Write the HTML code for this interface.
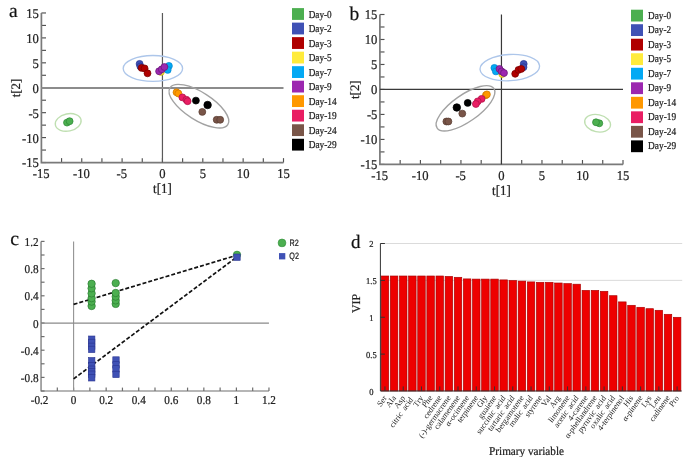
<!DOCTYPE html><html><head><meta charset="utf-8"><style>html,body{margin:0;padding:0;background:#fff;width:685px;height:457px;overflow:hidden}svg{display:block;will-change:transform;text-rendering:geometricPrecision}text{stroke:#222;stroke-width:0.22px}.nl text{stroke:none}</style></head><body>
<svg width="685" height="457" viewBox="0 0 685 457">
<rect width="685" height="457" fill="#fff"/>
<g stroke="#505050" stroke-width="1.15" fill="none">
<path d="M41.40 162.53h4.6"/>
<path d="M41.40 150.06h4.6"/>
<path d="M61.57 162.53v-4.4"/>
<path d="M41.40 137.60h4.6"/>
<path d="M81.75 162.53v-4.4"/>
<path d="M41.40 125.14h4.6"/>
<path d="M101.92 162.53v-4.4"/>
<path d="M41.40 112.67h4.6"/>
<path d="M122.10 162.53v-4.4"/>
<path d="M41.40 100.21h4.6"/>
<path d="M142.27 162.53v-4.4"/>
<path d="M41.40 87.75h4.6"/>
<path d="M162.45 162.53v-4.4"/>
<path d="M41.40 75.29h4.6"/>
<path d="M182.62 162.53v-4.4"/>
<path d="M41.40 62.83h4.6"/>
<path d="M202.80 162.53v-4.4"/>
<path d="M41.40 50.36h4.6"/>
<path d="M222.97 162.53v-4.4"/>
<path d="M41.40 37.90h4.6"/>
<path d="M243.15 162.53v-4.4"/>
<path d="M41.40 25.44h4.6"/>
<path d="M263.32 162.53v-4.4"/>
<path d="M41.40 12.97h4.6"/>
<path d="M283.50 162.53v-4.4"/>
</g>
<path d="M41.40 12.97V162.53H283.50" stroke="#7a7a7a" stroke-width="1.7" fill="none"/>
<path d="M162.45 12.97V162.53" stroke="#5a5a5a" stroke-width="1.2"/>
<path d="M41.40 87.95H283.50" stroke="#8c8c8c" stroke-width="1.9"/>
<g font-family="'Liberation Serif', serif" font-size="12.6" fill="#222">
<text transform="translate(38.90 17.87) scale(1 1.07)" text-anchor="end">15</text>
<text transform="translate(38.90 42.80) scale(1 1.07)" text-anchor="end">10</text>
<text transform="translate(38.90 67.73) scale(1 1.07)" text-anchor="end">5</text>
<text transform="translate(38.90 92.65) scale(1 1.07)" text-anchor="end">0</text>
<text transform="translate(38.90 117.58) scale(1 1.07)" text-anchor="end">-5</text>
<text transform="translate(38.90 142.50) scale(1 1.07)" text-anchor="end">-10</text>
<text transform="translate(38.90 167.43) scale(1 1.07)" text-anchor="end">-15</text>
<text transform="translate(41.10 177.62) scale(1 1.07)" text-anchor="middle">-15</text>
<text transform="translate(81.45 177.62) scale(1 1.07)" text-anchor="middle">-10</text>
<text transform="translate(121.80 177.62) scale(1 1.07)" text-anchor="middle">-5</text>
<text transform="translate(162.45 177.62) scale(1 1.07)" text-anchor="middle">0</text>
<text transform="translate(202.80 177.62) scale(1 1.07)" text-anchor="middle">5</text>
<text transform="translate(243.15 177.62) scale(1 1.07)" text-anchor="middle">10</text>
<text transform="translate(283.50 177.62) scale(1 1.07)" text-anchor="middle">15</text>
<text transform="translate(162.45 193.33) scale(1 1.07)" text-anchor="middle" font-size="13">t[1]</text>
<text transform="translate(20.10 87.95) rotate(-90)" text-anchor="middle" font-size="12.9">t[2]</text>
</g>
<text x="9.0" y="17.2" font-family="'Liberation Serif', serif" font-size="19.5" fill="#111">a</text>
<ellipse cx="152.9" cy="68.4" rx="29.7" ry="12.9" transform="rotate(0 152.9 68.4)" fill="none" stroke="#adc6ea" stroke-width="1.35"/>
<ellipse cx="198.9" cy="106.2" rx="34.3" ry="13.8" transform="rotate(32.5 198.9 106.2)" fill="none" stroke="#a2a2a2" stroke-width="1.35"/>
<ellipse cx="68.2" cy="122.4" rx="13.1" ry="8.6" transform="rotate(-12 68.2 122.4)" fill="none" stroke="#bfdfb1" stroke-width="1.35"/>
<circle cx="67.0" cy="122.6" r="3.45" fill="#4caf50" stroke="#2e8b35" stroke-width="0.75"/>
<circle cx="69.6" cy="121.2" r="3.45" fill="#4caf50" stroke="#2e8b35" stroke-width="0.75"/>
<circle cx="139.6" cy="63.9" r="3.45" fill="#3f51b5" stroke="#283593" stroke-width="0.75"/>
<circle cx="140.4" cy="66.5" r="3.45" fill="#3f51b5" stroke="#283593" stroke-width="0.75"/>
<circle cx="141.6" cy="67.9" r="3.45" fill="#b00000" stroke="#7a0000" stroke-width="0.75"/>
<circle cx="144.6" cy="68.4" r="3.45" fill="#b00000" stroke="#7a0000" stroke-width="0.75"/>
<circle cx="147.5" cy="73.3" r="3.45" fill="#b00000" stroke="#7a0000" stroke-width="0.75"/>
<circle cx="160.9" cy="71.9" r="3.45" fill="#ffeb3b" stroke="#c8b400" stroke-width="0.75"/>
<circle cx="168.9" cy="65.9" r="3.45" fill="#03a9f4" stroke="#0288d1" stroke-width="0.75"/>
<circle cx="167.7" cy="69.9" r="3.45" fill="#03a9f4" stroke="#0288d1" stroke-width="0.75"/>
<circle cx="159.1" cy="71.3" r="3.45" fill="#9c27b0" stroke="#6a1b7a" stroke-width="0.75"/>
<circle cx="161.8" cy="69.3" r="3.45" fill="#9c27b0" stroke="#6a1b7a" stroke-width="0.75"/>
<circle cx="164.4" cy="67.0" r="3.45" fill="#9c27b0" stroke="#6a1b7a" stroke-width="0.75"/>
<circle cx="176.5" cy="92.3" r="3.45" fill="#ff9800" stroke="#d07a00" stroke-width="0.75"/>
<circle cx="178.4" cy="93.5" r="3.45" fill="#ff9800" stroke="#d07a00" stroke-width="0.75"/>
<circle cx="182.4" cy="97.4" r="3.45" fill="#e91e63" stroke="#b0124a" stroke-width="0.75"/>
<circle cx="186.4" cy="99.8" r="3.45" fill="#e91e63" stroke="#b0124a" stroke-width="0.75"/>
<circle cx="187.6" cy="101.2" r="3.45" fill="#e91e63" stroke="#b0124a" stroke-width="0.75"/>
<circle cx="202.3" cy="111.9" r="3.45" fill="#795548" stroke="#5a3d33" stroke-width="0.75"/>
<circle cx="216.7" cy="119.8" r="3.45" fill="#795548" stroke="#5a3d33" stroke-width="0.75"/>
<circle cx="220.2" cy="119.8" r="3.45" fill="#795548" stroke="#5a3d33" stroke-width="0.75"/>
<circle cx="195.9" cy="100.6" r="3.45" fill="#000000" stroke="#000000" stroke-width="0.75"/>
<circle cx="207.6" cy="105.0" r="3.75" fill="#000000" stroke="#000000" stroke-width="0.75"/>
<rect x="292" y="8.10" width="12" height="11.8" fill="#4caf50"/>
<text transform="translate(308.70 17.65) scale(1 1.08)" font-family="'Liberation Serif', serif" font-size="9.8" fill="#222" textLength="23" lengthAdjust="spacingAndGlyphs">Day-0</text>
<rect x="292" y="22.62" width="12" height="11.8" fill="#3f51b5"/>
<text transform="translate(308.70 32.17) scale(1 1.08)" font-family="'Liberation Serif', serif" font-size="9.8" fill="#222" textLength="23" lengthAdjust="spacingAndGlyphs">Day-2</text>
<rect x="292" y="37.14" width="12" height="11.8" fill="#b00000"/>
<text transform="translate(308.70 46.69) scale(1 1.08)" font-family="'Liberation Serif', serif" font-size="9.8" fill="#222" textLength="23" lengthAdjust="spacingAndGlyphs">Day-3</text>
<rect x="292" y="51.66" width="12" height="11.8" fill="#ffeb3b"/>
<text transform="translate(308.70 61.21) scale(1 1.08)" font-family="'Liberation Serif', serif" font-size="9.8" fill="#222" textLength="23" lengthAdjust="spacingAndGlyphs">Day-5</text>
<rect x="292" y="66.18" width="12" height="11.8" fill="#03a9f4"/>
<text transform="translate(308.70 75.73) scale(1 1.08)" font-family="'Liberation Serif', serif" font-size="9.8" fill="#222" textLength="23" lengthAdjust="spacingAndGlyphs">Day-7</text>
<rect x="292" y="80.70" width="12" height="11.8" fill="#9c27b0"/>
<text transform="translate(308.70 90.25) scale(1 1.08)" font-family="'Liberation Serif', serif" font-size="9.8" fill="#222" textLength="23" lengthAdjust="spacingAndGlyphs">Day-9</text>
<rect x="292" y="95.22" width="12" height="11.8" fill="#ff9800"/>
<text transform="translate(308.70 104.77) scale(1 1.08)" font-family="'Liberation Serif', serif" font-size="9.8" fill="#222" textLength="28" lengthAdjust="spacingAndGlyphs">Day-14</text>
<rect x="292" y="109.74" width="12" height="11.8" fill="#e91e63"/>
<text transform="translate(308.70 119.29) scale(1 1.08)" font-family="'Liberation Serif', serif" font-size="9.8" fill="#222" textLength="28" lengthAdjust="spacingAndGlyphs">Day-19</text>
<rect x="292" y="124.26" width="12" height="11.8" fill="#795548"/>
<text transform="translate(308.70 133.81) scale(1 1.08)" font-family="'Liberation Serif', serif" font-size="9.8" fill="#222" textLength="28" lengthAdjust="spacingAndGlyphs">Day-24</text>
<rect x="292" y="138.78" width="12" height="11.8" fill="#000000"/>
<text transform="translate(308.70 148.33) scale(1 1.08)" font-family="'Liberation Serif', serif" font-size="9.8" fill="#222" textLength="28" lengthAdjust="spacingAndGlyphs">Day-29</text>
<g stroke="#505050" stroke-width="1.15" fill="none">
<path d="M379.90 164.41h4.6"/>
<path d="M379.90 151.91h4.6"/>
<path d="M400.16 164.41v-4.4"/>
<path d="M379.90 139.42h4.6"/>
<path d="M420.42 164.41v-4.4"/>
<path d="M379.90 126.93h4.6"/>
<path d="M440.68 164.41v-4.4"/>
<path d="M379.90 114.44h4.6"/>
<path d="M460.94 164.41v-4.4"/>
<path d="M379.90 101.94h4.6"/>
<path d="M481.19 164.41v-4.4"/>
<path d="M379.90 89.45h4.6"/>
<path d="M501.45 164.41v-4.4"/>
<path d="M379.90 76.96h4.6"/>
<path d="M521.71 164.41v-4.4"/>
<path d="M379.90 64.47h4.6"/>
<path d="M541.97 164.41v-4.4"/>
<path d="M379.90 51.97h4.6"/>
<path d="M562.22 164.41v-4.4"/>
<path d="M379.90 39.48h4.6"/>
<path d="M582.48 164.41v-4.4"/>
<path d="M379.90 26.99h4.6"/>
<path d="M602.74 164.41v-4.4"/>
<path d="M379.90 14.50h4.6"/>
<path d="M623.00 164.41v-4.4"/>
</g>
<path d="M379.90 14.50V164.41H623.00" stroke="#7a7a7a" stroke-width="1.7" fill="none"/>
<path d="M501.45 14.50V164.41" stroke="#383838" stroke-width="1.2"/>
<path d="M379.90 89.45H623.00" stroke="#3a3a3a" stroke-width="1.2"/>
<g font-family="'Liberation Serif', serif" font-size="12.6" fill="#222">
<text transform="translate(377.40 19.40) scale(1 1.07)" text-anchor="end">15</text>
<text transform="translate(377.40 44.38) scale(1 1.07)" text-anchor="end">10</text>
<text transform="translate(377.40 69.37) scale(1 1.07)" text-anchor="end">5</text>
<text transform="translate(377.40 94.35) scale(1 1.07)" text-anchor="end">0</text>
<text transform="translate(377.40 119.34) scale(1 1.07)" text-anchor="end">-5</text>
<text transform="translate(377.40 144.32) scale(1 1.07)" text-anchor="end">-10</text>
<text transform="translate(377.40 169.31) scale(1 1.07)" text-anchor="end">-15</text>
<text transform="translate(379.60 179.50) scale(1 1.07)" text-anchor="middle">-15</text>
<text transform="translate(420.12 179.50) scale(1 1.07)" text-anchor="middle">-10</text>
<text transform="translate(460.63 179.50) scale(1 1.07)" text-anchor="middle">-5</text>
<text transform="translate(501.45 179.50) scale(1 1.07)" text-anchor="middle">0</text>
<text transform="translate(541.97 179.50) scale(1 1.07)" text-anchor="middle">5</text>
<text transform="translate(582.48 179.50) scale(1 1.07)" text-anchor="middle">10</text>
<text transform="translate(623.00 179.50) scale(1 1.07)" text-anchor="middle">15</text>
<text transform="translate(501.45 195.21) scale(1 1.07)" text-anchor="middle" font-size="13">t[1]</text>
<text transform="translate(358.60 89.65) rotate(-90)" text-anchor="middle" font-size="12.9">t[2]</text>
</g>
<text x="349.6" y="19.8" font-family="'Liberation Serif', serif" font-size="19.5" fill="#111">b</text>
<ellipse cx="509.8" cy="67.6" rx="29.8" ry="13.1" transform="rotate(-3.5 509.8 67.6)" fill="none" stroke="#adc6ea" stroke-width="1.35"/>
<ellipse cx="465.5" cy="108.3" rx="34.6" ry="13.4" transform="rotate(-35 465.5 108.3)" fill="none" stroke="#a2a2a2" stroke-width="1.35"/>
<ellipse cx="597.6" cy="123.2" rx="13.1" ry="8.6" transform="rotate(12 597.6 123.2)" fill="none" stroke="#bfdfb1" stroke-width="1.35"/>
<circle cx="599.3" cy="123.3" r="3.45" fill="#4caf50" stroke="#2e8b35" stroke-width="0.75"/>
<circle cx="596.0" cy="122.3" r="3.45" fill="#4caf50" stroke="#2e8b35" stroke-width="0.75"/>
<circle cx="502.2" cy="74.0" r="3.45" fill="#ffeb3b" stroke="#c8b400" stroke-width="0.75"/>
<circle cx="494.4" cy="67.9" r="3.45" fill="#03a9f4" stroke="#0288d1" stroke-width="0.75"/>
<circle cx="495.9" cy="71.4" r="3.45" fill="#03a9f4" stroke="#0288d1" stroke-width="0.75"/>
<circle cx="499.5" cy="68.9" r="3.45" fill="#9c27b0" stroke="#6a1b7a" stroke-width="0.75"/>
<circle cx="501.6" cy="71.4" r="3.45" fill="#9c27b0" stroke="#6a1b7a" stroke-width="0.75"/>
<circle cx="504.0" cy="73.0" r="3.45" fill="#9c27b0" stroke="#6a1b7a" stroke-width="0.75"/>
<circle cx="523.7" cy="63.9" r="3.45" fill="#3f51b5" stroke="#283593" stroke-width="0.75"/>
<circle cx="523.5" cy="67.2" r="3.45" fill="#3f51b5" stroke="#283593" stroke-width="0.75"/>
<circle cx="515.2" cy="73.8" r="3.45" fill="#b00000" stroke="#7a0000" stroke-width="0.75"/>
<circle cx="518.5" cy="69.9" r="3.45" fill="#b00000" stroke="#7a0000" stroke-width="0.75"/>
<circle cx="521.3" cy="68.9" r="3.45" fill="#b00000" stroke="#7a0000" stroke-width="0.75"/>
<circle cx="485.9" cy="95.2" r="3.45" fill="#ff9800" stroke="#d07a00" stroke-width="0.75"/>
<circle cx="486.9" cy="94.4" r="3.45" fill="#ff9800" stroke="#d07a00" stroke-width="0.75"/>
<circle cx="481.6" cy="98.9" r="3.45" fill="#e91e63" stroke="#b0124a" stroke-width="0.75"/>
<circle cx="477.7" cy="101.4" r="3.45" fill="#e91e63" stroke="#b0124a" stroke-width="0.75"/>
<circle cx="475.9" cy="104.0" r="3.45" fill="#e91e63" stroke="#b0124a" stroke-width="0.75"/>
<circle cx="462.3" cy="113.6" r="3.45" fill="#795548" stroke="#5a3d33" stroke-width="0.75"/>
<circle cx="446.4" cy="121.5" r="3.45" fill="#795548" stroke="#5a3d33" stroke-width="0.75"/>
<circle cx="448.4" cy="121.5" r="3.45" fill="#795548" stroke="#5a3d33" stroke-width="0.75"/>
<circle cx="467.7" cy="102.9" r="3.45" fill="#000000" stroke="#000000" stroke-width="0.75"/>
<circle cx="456.8" cy="107.5" r="3.75" fill="#000000" stroke="#000000" stroke-width="0.75"/>
<rect x="631" y="9.70" width="12" height="11.8" fill="#4caf50"/>
<text transform="translate(648.10 18.70) scale(1 1.08)" font-family="'Liberation Serif', serif" font-size="9.8" fill="#222" textLength="23" lengthAdjust="spacingAndGlyphs">Day-0</text>
<rect x="631" y="24.22" width="12" height="11.8" fill="#3f51b5"/>
<text transform="translate(648.10 33.22) scale(1 1.08)" font-family="'Liberation Serif', serif" font-size="9.8" fill="#222" textLength="23" lengthAdjust="spacingAndGlyphs">Day-2</text>
<rect x="631" y="38.74" width="12" height="11.8" fill="#b00000"/>
<text transform="translate(648.10 47.74) scale(1 1.08)" font-family="'Liberation Serif', serif" font-size="9.8" fill="#222" textLength="23" lengthAdjust="spacingAndGlyphs">Day-3</text>
<rect x="631" y="53.26" width="12" height="11.8" fill="#ffeb3b"/>
<text transform="translate(648.10 62.26) scale(1 1.08)" font-family="'Liberation Serif', serif" font-size="9.8" fill="#222" textLength="23" lengthAdjust="spacingAndGlyphs">Day-5</text>
<rect x="631" y="67.78" width="12" height="11.8" fill="#03a9f4"/>
<text transform="translate(648.10 76.78) scale(1 1.08)" font-family="'Liberation Serif', serif" font-size="9.8" fill="#222" textLength="23" lengthAdjust="spacingAndGlyphs">Day-7</text>
<rect x="631" y="82.30" width="12" height="11.8" fill="#9c27b0"/>
<text transform="translate(648.10 91.30) scale(1 1.08)" font-family="'Liberation Serif', serif" font-size="9.8" fill="#222" textLength="23" lengthAdjust="spacingAndGlyphs">Day-9</text>
<rect x="631" y="96.82" width="12" height="11.8" fill="#ff9800"/>
<text transform="translate(648.10 105.82) scale(1 1.08)" font-family="'Liberation Serif', serif" font-size="9.8" fill="#222" textLength="28" lengthAdjust="spacingAndGlyphs">Day-14</text>
<rect x="631" y="111.34" width="12" height="11.8" fill="#e91e63"/>
<text transform="translate(648.10 120.34) scale(1 1.08)" font-family="'Liberation Serif', serif" font-size="9.8" fill="#222" textLength="28" lengthAdjust="spacingAndGlyphs">Day-19</text>
<rect x="631" y="125.86" width="12" height="11.8" fill="#795548"/>
<text transform="translate(648.10 134.86) scale(1 1.08)" font-family="'Liberation Serif', serif" font-size="9.8" fill="#222" textLength="28" lengthAdjust="spacingAndGlyphs">Day-24</text>
<rect x="631" y="140.38" width="12" height="11.8" fill="#000000"/>
<text transform="translate(648.10 149.38) scale(1 1.08)" font-family="'Liberation Serif', serif" font-size="9.8" fill="#222" textLength="28" lengthAdjust="spacingAndGlyphs">Day-29</text>
<g stroke="#6e6e6e" stroke-width="1.2" fill="none"><path d="M41.04 241.40V391.00H268.96"/>
<path d="M41.04 241.40h3.5"/>
<path d="M41.04 255.00h3.5"/>
<path d="M41.04 268.60h3.5"/>
<path d="M41.04 282.20h3.5"/>
<path d="M41.04 295.80h3.5"/>
<path d="M41.04 309.40h3.5"/>
<path d="M41.04 323.00h3.5"/>
<path d="M41.04 336.60h3.5"/>
<path d="M41.04 350.20h3.5"/>
<path d="M41.04 363.80h3.5"/>
<path d="M41.04 377.40h3.5"/>
<path d="M41.04 391.00h3.5"/>
<path d="M57.32 391.00v-3.4"/>
<path d="M73.60 391.00v-3.4"/>
<path d="M89.88 391.00v-3.4"/>
<path d="M106.16 391.00v-3.4"/>
<path d="M122.44 391.00v-3.4"/>
<path d="M138.72 391.00v-3.4"/>
<path d="M155.00 391.00v-3.4"/>
<path d="M171.28 391.00v-3.4"/>
<path d="M187.56 391.00v-3.4"/>
<path d="M203.84 391.00v-3.4"/>
<path d="M220.12 391.00v-3.4"/>
<path d="M236.40 391.00v-3.4"/>
<path d="M252.68 391.00v-3.4"/>
<path d="M268.96 391.00v-3.4"/>
</g>
<path d="M73.60 241.40V391.00" stroke="#929292" stroke-width="1.1"/><path d="M41.04 323.05H268.96" stroke="#8a8a8a" stroke-width="1.35"/>
<g font-family="'Liberation Serif', serif" font-size="11.2" fill="#222">
<text transform="translate(38.54 245.90) scale(1 1.07)" text-anchor="end">1.2</text>
<text transform="translate(38.54 273.10) scale(1 1.07)" text-anchor="end">0.8</text>
<text transform="translate(38.54 300.30) scale(1 1.07)" text-anchor="end">0.4</text>
<text transform="translate(38.54 327.50) scale(1 1.07)" text-anchor="end">0</text>
<text transform="translate(38.54 354.70) scale(1 1.07)" text-anchor="end">-0.4</text>
<text transform="translate(38.54 381.90) scale(1 1.07)" text-anchor="end">-0.8</text>
<text transform="translate(39.54 404.30) scale(1 1.07)" text-anchor="middle">-0.2</text>
<text transform="translate(73.60 404.30) scale(1 1.07)" text-anchor="middle">0</text>
<text transform="translate(106.16 404.30) scale(1 1.07)" text-anchor="middle">0.2</text>
<text transform="translate(138.72 404.30) scale(1 1.07)" text-anchor="middle">0.4</text>
<text transform="translate(171.28 404.30) scale(1 1.07)" text-anchor="middle">0.6</text>
<text transform="translate(203.84 404.30) scale(1 1.07)" text-anchor="middle">0.8</text>
<text transform="translate(236.40 404.30) scale(1 1.07)" text-anchor="middle">1</text>
<text transform="translate(268.96 404.30) scale(1 1.07)" text-anchor="middle">1.2</text>
</g>
<text x="10.3" y="245.4" font-family="'Liberation Serif', serif" font-size="19.8" fill="#111">c</text>
<g stroke="#111" stroke-width="1.7" stroke-dasharray="4 2" fill="none"><path d="M73.60 304.4L237 255.2"/><path d="M73.60 378.9L237 256.9"/></g>
<circle cx="91.6" cy="306.0" r="3.7" fill="#4caf50" stroke="#2a7d30" stroke-width="0.7"/>
<circle cx="91.6" cy="301.6" r="3.7" fill="#4caf50" stroke="#2a7d30" stroke-width="0.7"/>
<circle cx="91.6" cy="298.2" r="3.7" fill="#4caf50" stroke="#2a7d30" stroke-width="0.7"/>
<circle cx="91.6" cy="293.4" r="3.7" fill="#4caf50" stroke="#2a7d30" stroke-width="0.7"/>
<circle cx="91.6" cy="288.3" r="3.7" fill="#4caf50" stroke="#2a7d30" stroke-width="0.7"/>
<circle cx="91.6" cy="283.8" r="3.7" fill="#4caf50" stroke="#2a7d30" stroke-width="0.7"/>
<circle cx="115.7" cy="303.9" r="3.7" fill="#4caf50" stroke="#2a7d30" stroke-width="0.7"/>
<circle cx="115.7" cy="300.4" r="3.7" fill="#4caf50" stroke="#2a7d30" stroke-width="0.7"/>
<circle cx="115.7" cy="296.6" r="3.7" fill="#4caf50" stroke="#2a7d30" stroke-width="0.7"/>
<circle cx="115.7" cy="293.0" r="3.7" fill="#4caf50" stroke="#2a7d30" stroke-width="0.7"/>
<circle cx="115.7" cy="283.1" r="3.7" fill="#4caf50" stroke="#2a7d30" stroke-width="0.7"/>
<circle cx="237" cy="254.8" r="3.7" fill="#4caf50" stroke="#2e8b35" stroke-width="0.6"/>
<rect x="88.50" y="336.00" width="6.4" height="6.4" fill="#3f51b5" stroke="#2a3590" stroke-width="0.6"/>
<rect x="88.50" y="339.20" width="6.4" height="6.4" fill="#3f51b5" stroke="#2a3590" stroke-width="0.6"/>
<rect x="88.50" y="343.10" width="6.4" height="6.4" fill="#3f51b5" stroke="#2a3590" stroke-width="0.6"/>
<rect x="88.50" y="346.20" width="6.4" height="6.4" fill="#3f51b5" stroke="#2a3590" stroke-width="0.6"/>
<rect x="88.50" y="357.50" width="6.4" height="6.4" fill="#3f51b5" stroke="#2a3590" stroke-width="0.6"/>
<rect x="88.50" y="362.30" width="6.4" height="6.4" fill="#3f51b5" stroke="#2a3590" stroke-width="0.6"/>
<rect x="88.50" y="366.00" width="6.4" height="6.4" fill="#3f51b5" stroke="#2a3590" stroke-width="0.6"/>
<rect x="88.50" y="368.60" width="6.4" height="6.4" fill="#3f51b5" stroke="#2a3590" stroke-width="0.6"/>
<rect x="88.50" y="371.00" width="6.4" height="6.4" fill="#3f51b5" stroke="#2a3590" stroke-width="0.6"/>
<rect x="88.50" y="374.60" width="6.4" height="6.4" fill="#3f51b5" stroke="#2a3590" stroke-width="0.6"/>
<rect x="112.80" y="356.80" width="6.4" height="6.4" fill="#3f51b5" stroke="#2a3590" stroke-width="0.6"/>
<rect x="112.80" y="361.70" width="6.4" height="6.4" fill="#3f51b5" stroke="#2a3590" stroke-width="0.6"/>
<rect x="112.80" y="365.70" width="6.4" height="6.4" fill="#3f51b5" stroke="#2a3590" stroke-width="0.6"/>
<rect x="112.80" y="371.20" width="6.4" height="6.4" fill="#3f51b5" stroke="#2a3590" stroke-width="0.6"/>
<rect x="233.8" y="254" width="6.4" height="6.4" fill="#3f51b5" stroke="#2a3590" stroke-width="0.6"/>
<circle cx="282" cy="242.9" r="3.9" fill="#4caf50" stroke="#2e8b35" stroke-width="0.6"/>
<rect x="279" y="253.1" width="6.3" height="6.3" fill="#3f51b5"/>
<g font-family="'Liberation Sans', sans-serif" font-size="8.6" fill="#222"><text transform="translate(289.6 246.0) scale(0.84 1.08)">R2</text><text transform="translate(289.3 258.9) scale(0.84 1.08)">Q2</text></g>
<g stroke="#d2d2d2" stroke-width="0.8"><path d="M380.4 243.50H682.19"/><path d="M380.4 280.38H682.19"/></g>
<rect x="381.20" y="276.00" width="7.53" height="115.00" fill="#ee0000" stroke="#a80000" stroke-width="0.65"/>
<rect x="390.33" y="276.00" width="7.53" height="115.00" fill="#ee0000" stroke="#a80000" stroke-width="0.65"/>
<rect x="399.46" y="276.00" width="7.53" height="115.00" fill="#ee0000" stroke="#a80000" stroke-width="0.65"/>
<rect x="408.59" y="276.00" width="7.53" height="115.00" fill="#ee0000" stroke="#a80000" stroke-width="0.65"/>
<rect x="417.72" y="276.00" width="7.53" height="115.00" fill="#ee0000" stroke="#a80000" stroke-width="0.65"/>
<rect x="426.85" y="276.00" width="7.53" height="115.00" fill="#ee0000" stroke="#a80000" stroke-width="0.65"/>
<rect x="435.98" y="276.00" width="7.53" height="115.00" fill="#ee0000" stroke="#a80000" stroke-width="0.65"/>
<rect x="445.11" y="276.40" width="7.53" height="114.60" fill="#ee0000" stroke="#a80000" stroke-width="0.65"/>
<rect x="454.24" y="277.30" width="7.53" height="113.70" fill="#ee0000" stroke="#a80000" stroke-width="0.65"/>
<rect x="463.37" y="278.90" width="7.53" height="112.10" fill="#ee0000" stroke="#a80000" stroke-width="0.65"/>
<rect x="472.50" y="279.10" width="7.53" height="111.90" fill="#ee0000" stroke="#a80000" stroke-width="0.65"/>
<rect x="481.63" y="279.10" width="7.53" height="111.90" fill="#ee0000" stroke="#a80000" stroke-width="0.65"/>
<rect x="490.76" y="279.10" width="7.53" height="111.90" fill="#ee0000" stroke="#a80000" stroke-width="0.65"/>
<rect x="499.89" y="279.90" width="7.53" height="111.10" fill="#ee0000" stroke="#a80000" stroke-width="0.65"/>
<rect x="509.02" y="280.50" width="7.53" height="110.50" fill="#ee0000" stroke="#a80000" stroke-width="0.65"/>
<rect x="518.15" y="281.10" width="7.53" height="109.90" fill="#ee0000" stroke="#a80000" stroke-width="0.65"/>
<rect x="527.28" y="281.90" width="7.53" height="109.10" fill="#ee0000" stroke="#a80000" stroke-width="0.65"/>
<rect x="536.41" y="282.30" width="7.53" height="108.70" fill="#ee0000" stroke="#a80000" stroke-width="0.65"/>
<rect x="545.54" y="282.30" width="7.53" height="108.70" fill="#ee0000" stroke="#a80000" stroke-width="0.65"/>
<rect x="554.67" y="283.00" width="7.53" height="108.00" fill="#ee0000" stroke="#a80000" stroke-width="0.65"/>
<rect x="563.80" y="283.60" width="7.53" height="107.40" fill="#ee0000" stroke="#a80000" stroke-width="0.65"/>
<rect x="572.93" y="284.20" width="7.53" height="106.80" fill="#ee0000" stroke="#a80000" stroke-width="0.65"/>
<rect x="582.06" y="290.40" width="7.53" height="100.60" fill="#ee0000" stroke="#a80000" stroke-width="0.65"/>
<rect x="591.19" y="290.40" width="7.53" height="100.60" fill="#ee0000" stroke="#a80000" stroke-width="0.65"/>
<rect x="600.32" y="291.30" width="7.53" height="99.70" fill="#ee0000" stroke="#a80000" stroke-width="0.65"/>
<rect x="609.45" y="295.70" width="7.53" height="95.30" fill="#ee0000" stroke="#a80000" stroke-width="0.65"/>
<rect x="618.58" y="301.90" width="7.53" height="89.10" fill="#ee0000" stroke="#a80000" stroke-width="0.65"/>
<rect x="627.71" y="305.30" width="7.53" height="85.70" fill="#ee0000" stroke="#a80000" stroke-width="0.65"/>
<rect x="636.84" y="307.30" width="7.53" height="83.70" fill="#ee0000" stroke="#a80000" stroke-width="0.65"/>
<rect x="645.97" y="308.70" width="7.53" height="82.30" fill="#ee0000" stroke="#a80000" stroke-width="0.65"/>
<rect x="655.10" y="310.30" width="7.53" height="80.70" fill="#ee0000" stroke="#a80000" stroke-width="0.65"/>
<rect x="664.23" y="314.30" width="7.53" height="76.70" fill="#ee0000" stroke="#a80000" stroke-width="0.65"/>
<rect x="673.36" y="317.30" width="7.53" height="73.70" fill="#ee0000" stroke="#a80000" stroke-width="0.65"/>
<g stroke="#333" stroke-width="1" fill="none"><path d="M380.4 243.50V391.0H681.69"/>
<path d="M380.4 243.50h4.5"/>
<path d="M380.4 280.38h4.5"/>
<path d="M380.4 317.25h4.5"/>
<path d="M380.4 354.12h4.5"/>
<path d="M384.96 391.0v-4.6"/>
<path d="M403.22 391.0v-4.6"/>
<path d="M421.48 391.0v-4.6"/>
<path d="M439.75 391.0v-4.6"/>
<path d="M458.00 391.0v-4.6"/>
<path d="M476.26 391.0v-4.6"/>
<path d="M494.52 391.0v-4.6"/>
<path d="M512.78 391.0v-4.6"/>
<path d="M531.04 391.0v-4.6"/>
<path d="M549.30 391.0v-4.6"/>
<path d="M567.57 391.0v-4.6"/>
<path d="M585.83 391.0v-4.6"/>
<path d="M604.09 391.0v-4.6"/>
<path d="M622.35 391.0v-4.6"/>
<path d="M640.61 391.0v-4.6"/>
<path d="M658.87 391.0v-4.6"/>
<path d="M677.12 391.0v-4.6"/>
</g>
<g font-family="'Liberation Serif', serif" font-size="8.5" fill="#222">
<text transform="translate(371.40 247.40) scale(1 1.07)" text-anchor="middle">2</text>
<text transform="translate(371.40 284.27) scale(1 1.07)" text-anchor="middle">1.5</text>
<text transform="translate(371.40 321.15) scale(1 1.07)" text-anchor="middle">1</text>
<text transform="translate(371.40 358.02) scale(1 1.07)" text-anchor="middle">0.5</text>
<text transform="translate(371.40 394.90) scale(1 1.07)" text-anchor="middle">0</text>
</g>
<g font-family="'Liberation Serif', serif" font-size="7.95" fill="#222" word-spacing="1.7" class="nl">
<text transform="translate(387.16 398.10) scale(1 1.07) rotate(-53)" text-anchor="end">Ser</text>
<text transform="translate(396.29 398.10) scale(1 1.07) rotate(-53)" text-anchor="end">Ala</text>
<text transform="translate(405.42 398.10) scale(1 1.07) rotate(-53)" text-anchor="end">Asp</text>
<text transform="translate(413.35 399.80) scale(1 1.07) rotate(-53)" text-anchor="end">citric acid</text>
<text transform="translate(423.68 398.10) scale(1 1.07) rotate(-53)" text-anchor="end">Try</text>
<text transform="translate(432.81 398.10) scale(1 1.07) rotate(-53)" text-anchor="end">Phe</text>
<text transform="translate(441.94 398.10) scale(1 1.07) rotate(-53)" text-anchor="end">cedrene</text>
<text transform="translate(451.07 398.10) scale(1 1.07) rotate(-53)" text-anchor="end">(-)-germacrene</text>
<text transform="translate(460.20 398.10) scale(1 1.07) rotate(-53)" text-anchor="end">calamenene</text>
<text transform="translate(469.33 398.10) scale(1 1.07) rotate(-53)" text-anchor="end">α-ocimene</text>
<text transform="translate(478.46 398.10) scale(1 1.07) rotate(-53)" text-anchor="end">terpinene</text>
<text transform="translate(487.59 398.10) scale(1 1.07) rotate(-53)" text-anchor="end">Gly</text>
<text transform="translate(496.72 398.10) scale(1 1.07) rotate(-53)" text-anchor="end">guaiene</text>
<text transform="translate(505.85 398.10) scale(1 1.07) rotate(-53)" text-anchor="end">succinic acid</text>
<text transform="translate(514.99 398.10) scale(1 1.07) rotate(-53)" text-anchor="end">tartaric acid</text>
<text transform="translate(524.12 398.10) scale(1 1.07) rotate(-53)" text-anchor="end">bergamotene</text>
<text transform="translate(533.25 398.10) scale(1 1.07) rotate(-53)" text-anchor="end">malic acid</text>
<text transform="translate(542.38 398.10) scale(1 1.07) rotate(-53)" text-anchor="end">styrene</text>
<text transform="translate(551.50 398.10) scale(1 1.07) rotate(-53)" text-anchor="end">Val</text>
<text transform="translate(560.63 398.10) scale(1 1.07) rotate(-53)" text-anchor="end">Arg</text>
<text transform="translate(569.77 398.10) scale(1 1.07) rotate(-53)" text-anchor="end">limonene</text>
<text transform="translate(578.89 398.10) scale(1 1.07) rotate(-53)" text-anchor="end">acetic acid</text>
<text transform="translate(588.03 398.10) scale(1 1.07) rotate(-53)" text-anchor="end">4-carene</text>
<text transform="translate(597.15 398.10) scale(1 1.07) rotate(-53)" text-anchor="end">α-phellandrene</text>
<text transform="translate(606.29 398.10) scale(1 1.07) rotate(-53)" text-anchor="end">pyruvic acid</text>
<text transform="translate(615.42 398.10) scale(1 1.07) rotate(-53)" text-anchor="end">oxalic acid</text>
<text transform="translate(624.55 398.10) scale(1 1.07) rotate(-53)" text-anchor="end">4-terpinenol</text>
<text transform="translate(633.68 398.10) scale(1 1.07) rotate(-53)" text-anchor="end">His</text>
<text transform="translate(642.81 398.10) scale(1 1.07) rotate(-53)" text-anchor="end">α-pinene</text>
<text transform="translate(651.94 398.10) scale(1 1.07) rotate(-53)" text-anchor="end">Lys</text>
<text transform="translate(661.07 398.10) scale(1 1.07) rotate(-53)" text-anchor="end">Leu</text>
<text transform="translate(670.20 398.10) scale(1 1.07) rotate(-53)" text-anchor="end">cadinene</text>
<text transform="translate(679.33 398.10) scale(1 1.07) rotate(-53)" text-anchor="end">Pro</text>
</g>
<text transform="translate(489.1 454.5) scale(1 1.07)" font-family="'Liberation Serif', serif" font-size="11.2" fill="#222">Primary variable</text>
<text transform="translate(360.2 303.5) rotate(-90)" text-anchor="middle" font-family="'Liberation Serif', serif" font-size="11.8" fill="#222">VIP</text>
<text x="351.0" y="247.6" font-family="'Liberation Serif', serif" font-size="19" fill="#111">d</text>
</svg></body></html>
